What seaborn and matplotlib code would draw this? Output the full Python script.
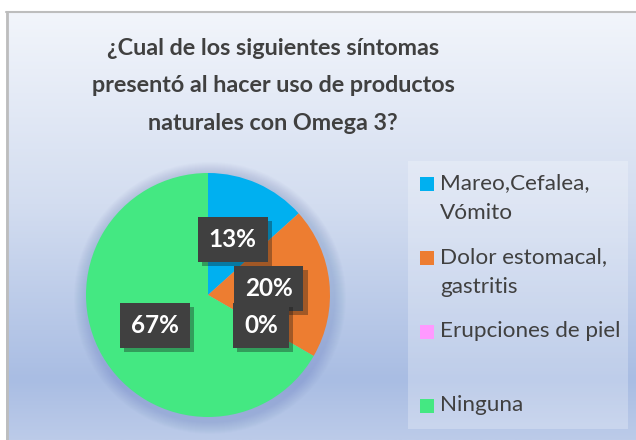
import matplotlib
matplotlib.use("Agg")
import matplotlib.pyplot as plt
import matplotlib.patheffects as pe
import numpy as np
import seaborn as sns
from matplotlib.colors import LinearSegmentedColormap
from matplotlib.patches import Rectangle, Circle

# Respuestas (15 encuestados)
categorias = ["Mareo,Cefalea,\nVómito", "Dolor estomacal,\ngastritis", "Erupciones de piel", "Ninguna"]
respuestas = [2, 3, 0, 10]
colores = ["#00b0f0", "#ed7d31", "#ff99ff", "#44e882"]
titulo = "¿Cual de los siguientes síntomas\npresentó al hacer uso de productos\nnaturales con Omega 3?"

sns.set_theme(style="white")
plt.rcParams["font.family"] = ["Lato", "DejaVu Sans"]

W, H = 636, 440
fig = plt.figure(figsize=(W / 100, H / 100), dpi=100)
fig.patch.set_facecolor("white")

# fondo con degradado del area del grafico
bg = fig.add_axes([0, 0, 1, 1])
bg.set_xlim(0, W)
bg.set_ylim(H, 0)
bg.axis("off")
grad = LinearSegmentedColormap.from_list(
    "fondo", [(0, "#f2f5fb"), (0.45, "#d3ddf0"), (0.86, "#a9bde3"), (1, "#bccbe9")]
)
bg.imshow(np.linspace(0, 1, 256)[:, None], cmap=grad, aspect="auto",
          extent=(6, W, H, 12), zorder=0)
bg.plot([6, W], [12.5, 12.5], color="#bdbdbd", lw=1.5, zorder=1)
bg.plot([6.5, 6.5], [12, H], color="#bdbdbd", lw=2, zorder=1)

# halo suave detras del pastel
for k in range(12):
    bg.add_patch(Circle((210, 298), 122 + 14 - k, color="#5a78b8", alpha=0.025, lw=0, zorder=2))

# caja de la leyenda
bg.add_patch(Rectangle((408, 161), 220, 268, facecolor="white", alpha=0.25, lw=0, zorder=2))

bg.text(273, 86, titulo, ha="center", va="center", fontsize=16.8, fontweight="bold",
        color="#404040", linespacing=1.95, zorder=3)

# pastel
ax = fig.add_axes([86 / W, 23 / H, 244 / W, 244 / H])
wedges, _, autotexts = ax.pie(
    respuestas, colors=colores, startangle=90, counterclock=False,
    autopct=lambda p: f"{p:.0f}%", pctdistance=0.5,
    wedgeprops=dict(linewidth=0),
    textprops=dict(color="white", fontsize=17.5, fontweight="bold"),
)
for t in autotexts:
    t.set_bbox(dict(boxstyle="square,pad=0.45", facecolor="#404040", edgecolor="none"))
    t.get_bbox_patch().set_path_effects([pe.SimplePatchShadow(offset=(3, -3), alpha=0.35), pe.Normal()])
ax.set_xlim(-1, 1)
ax.set_ylim(-1, 1)
ax.set_aspect("equal")

# leyenda
fila_y = [184, 258, 332, 406]
for nombre, color, y in zip(categorias, colores, fila_y):
    bg.add_patch(Rectangle((420, y - 7), 14, 14, facecolor=color, lw=0, zorder=3))
    bg.text(440, y - 11, nombre, ha="left", va="top", fontsize=16.2, color="#404040",
            linespacing=1.6, zorder=3)

fig.savefig("out.png", dpi=100, facecolor=fig.get_facecolor())
